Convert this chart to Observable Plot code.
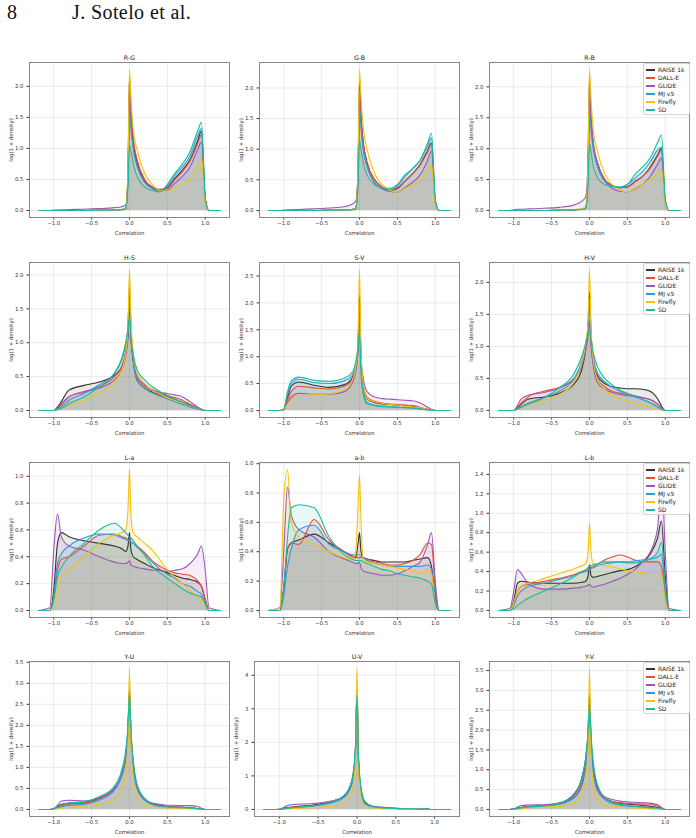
<!DOCTYPE html>
<html><head><meta charset="utf-8">
<script src="https://cdn.jsdelivr.net/npm/d3@7"></script>
<script src="https://cdn.jsdelivr.net/npm/@observablehq/plot@0.6"></script>
<style>
html,body{margin:0;padding:0;background:#fff;}
#page{position:relative;width:696px;height:838px;overflow:hidden;background:#fff;font-family:"DejaVu Sans",sans-serif;}
.hdr{position:absolute;top:2px;font-family:"Liberation Serif",serif;font-size:20px;line-height:1;color:#111;letter-spacing:0.4px;}
.panel{position:absolute;}
.legend{position:absolute;border:1px solid #d4d4d4;border-radius:2px;background:rgba(255,255,255,0.85);font-family:"DejaVu Sans",sans-serif;font-size:6px;color:#222;}
.legend .row{position:absolute;left:2px;height:8px;line-height:8px;white-space:nowrap;}
.legend .sw{position:absolute;left:0;top:3.3px;width:9px;height:1.5px;}
.legend .lb{position:absolute;left:12px;top:0;}
</style></head>
<body><div id="page">
<div class="hdr" style="left:7px">8</div>
<div class="hdr" style="left:72px">J. Sotelo et al.</div>
</div>
<script>
// shared x grid (correlation values)
const X = [-1.2,-1.05,-1.0,-0.95,-0.9,-0.8,-0.6,-0.4,-0.2,-0.1,-0.05,-0.02,0,0.02,0.05,0.1,0.2,0.3,0.4,0.5,0.6,0.7,0.8,0.9,0.95,1.0,1.05,1.2];
const SERIES = ["RAISE 1k","DALL-E","GLIDE","MJ v5","Firefly","SD"];
const COLORS = ["#333333","#e74c3c","#9b59b6","#3498db","#f1c40f","#1abc9c"];
const X_TICKS = [-1,-0.5,0,0.5,1];
const TITLES = ["R-G","G-B","R-B","H-S","S-V","H-V","L-a","a-b","L-b","Y-U","U-V","Y-V"];

const RG = [
 [0,0,0,0,0,0,0,0.005,0.01,0.015,0.03,0.6,2.15,1.6,1.1,0.78,0.48,0.37,0.33,0.37,0.52,0.65,0.82,1.12,1.28,0.2,0,0],
 [0,0,0,0,0,0,0,0.005,0.01,0.015,0.03,0.55,2.0,1.55,1.15,0.82,0.5,0.38,0.34,0.36,0.5,0.63,0.8,1.08,1.22,0.15,0,0],
 [0,0,0.005,0.008,0.01,0.015,0.02,0.03,0.045,0.06,0.09,0.5,1.85,1.4,1.0,0.72,0.46,0.36,0.32,0.33,0.44,0.55,0.7,0.98,1.1,0.15,0,0],
 [0,0,0,0,0,0,0,0.005,0.01,0.015,0.03,0.5,1.55,1.3,1.0,0.72,0.45,0.35,0.31,0.4,0.57,0.7,0.88,1.2,1.32,0.15,0,0],
 [0,0,0,0,0,0,0,0.005,0.01,0.015,0.03,0.7,2.27,1.8,1.3,0.98,0.6,0.42,0.32,0.31,0.37,0.42,0.5,0.72,0.85,0.12,0,0],
 [0,0,0,0,0,0,0,0.005,0.01,0.01,0.02,0.4,1.05,0.95,0.75,0.55,0.38,0.32,0.3,0.42,0.6,0.75,0.95,1.28,1.42,0.2,0,0]
];
const GB = [
 [0,0,0,0,0,0,0,0.005,0.01,0.015,0.03,0.6,2.1,1.55,1.1,0.78,0.5,0.38,0.33,0.36,0.48,0.6,0.75,0.98,1.1,0.15,0,0],
 [0,0,0,0,0,0,0,0.005,0.01,0.015,0.03,0.55,1.95,1.5,1.1,0.78,0.5,0.38,0.33,0.37,0.48,0.6,0.74,0.96,1.08,0.15,0,0],
 [0,0,0.005,0.01,0.012,0.015,0.025,0.04,0.06,0.1,0.15,0.6,1.8,1.4,1.0,0.72,0.45,0.35,0.31,0.3,0.37,0.46,0.58,0.82,0.97,0.12,0,0],
 [0,0,0,0,0,0,0,0.005,0.01,0.015,0.03,0.5,1.65,1.35,1.0,0.72,0.45,0.36,0.33,0.4,0.55,0.68,0.82,1.05,1.18,0.15,0,0],
 [0,0,0,0,0,0,0,0.005,0.01,0.015,0.03,0.7,2.3,1.85,1.35,1.0,0.6,0.42,0.33,0.3,0.36,0.42,0.5,0.66,0.76,0.1,0,0],
 [0,0,0,0,0,0,0,0.005,0.01,0.01,0.02,0.4,1.15,1.0,0.78,0.58,0.42,0.37,0.36,0.42,0.58,0.68,0.82,1.1,1.26,0.18,0,0]
];
const RB = [
 [0,0,0,0,0,0,0,0.005,0.01,0.02,0.04,0.6,2.0,1.5,1.05,0.78,0.5,0.4,0.37,0.38,0.47,0.55,0.7,0.9,1.0,0.15,0,0],
 [0,0,0,0,0,0,0,0.005,0.01,0.02,0.04,0.55,1.9,1.45,1.05,0.78,0.5,0.4,0.37,0.38,0.46,0.55,0.68,0.88,0.98,0.15,0,0],
 [0,0,0.01,0.02,0.02,0.025,0.035,0.05,0.09,0.15,0.22,0.8,2.2,1.6,1.1,0.8,0.48,0.36,0.31,0.3,0.35,0.42,0.55,0.75,0.85,0.12,0,0],
 [0,0,0,0,0,0,0,0.005,0.01,0.02,0.04,0.5,1.62,1.3,1.0,0.72,0.47,0.39,0.37,0.42,0.52,0.63,0.78,0.98,1.02,0.15,0,0],
 [0,0,0,0,0,0,0,0.005,0.015,0.03,0.06,0.7,2.28,1.8,1.3,0.98,0.6,0.42,0.33,0.3,0.36,0.42,0.5,0.6,0.68,0.1,0,0],
 [0,0,0,0,0,0,0,0.005,0.01,0.015,0.03,0.4,1.08,0.95,0.72,0.55,0.42,0.39,0.38,0.42,0.58,0.7,0.85,1.1,1.22,0.18,0,0]
];
const HS = [
 [0,0,0,0.05,0.13,0.3,0.37,0.42,0.52,0.65,0.85,1.1,1.55,1.05,0.72,0.45,0.33,0.27,0.23,0.2,0.16,0.12,0.08,0.03,0.01,0,0,0],
 [0,0,0,0.03,0.08,0.2,0.28,0.35,0.5,0.65,0.88,1.2,1.85,1.2,0.8,0.5,0.36,0.29,0.25,0.22,0.19,0.15,0.09,0.04,0.015,0,0,0],
 [0,0,0,0.03,0.1,0.2,0.27,0.33,0.45,0.6,0.8,1.1,1.65,1.1,0.75,0.5,0.38,0.31,0.27,0.25,0.23,0.2,0.13,0.05,0.02,0,0,0],
 [0,0,0,0.02,0.05,0.15,0.25,0.38,0.55,0.75,0.98,1.25,1.75,1.15,0.75,0.45,0.33,0.26,0.21,0.17,0.13,0.09,0.05,0.02,0.01,0,0,0],
 [0,0,0,0.01,0.03,0.08,0.15,0.26,0.42,0.6,0.85,1.25,2.08,1.3,0.85,0.55,0.4,0.3,0.24,0.19,0.15,0.11,0.07,0.03,0.01,0,0,0],
 [0,0,0,0.01,0.03,0.1,0.2,0.35,0.55,0.78,1.0,1.2,1.38,1.05,0.82,0.6,0.45,0.35,0.28,0.22,0.17,0.12,0.07,0.03,0.01,0,0,0]
];
const SV = [
 [0,0,0.02,0.25,0.45,0.53,0.47,0.43,0.48,0.6,0.8,1.2,2.15,0.9,0.45,0.22,0.15,0.12,0.11,0.1,0.09,0.08,0.05,0.02,0.01,0,0,0],
 [0,0,0.02,0.2,0.35,0.45,0.42,0.4,0.45,0.57,0.78,1.15,2.0,0.9,0.48,0.25,0.17,0.14,0.12,0.11,0.1,0.09,0.06,0.02,0.01,0,0,0],
 [0,0,0.01,0.15,0.25,0.32,0.3,0.3,0.35,0.5,0.72,1.1,1.9,1.0,0.6,0.35,0.25,0.22,0.21,0.2,0.19,0.18,0.14,0.06,0.02,0,0,0],
 [0,0,0.02,0.3,0.5,0.58,0.52,0.5,0.55,0.65,0.82,1.15,1.75,0.8,0.35,0.15,0.1,0.08,0.07,0.06,0.05,0.04,0.03,0.01,0.005,0,0,0],
 [0,0,0.01,0.12,0.2,0.28,0.29,0.31,0.38,0.55,0.8,1.3,2.62,1.1,0.5,0.23,0.16,0.13,0.11,0.1,0.08,0.07,0.05,0.02,0.01,0,0,0],
 [0,0,0.02,0.35,0.55,0.62,0.56,0.54,0.6,0.7,0.9,1.15,1.45,0.7,0.3,0.12,0.09,0.07,0.065,0.06,0.055,0.05,0.03,0.01,0.005,0,0,0]
];
const HV = [
 [0,0,0,0.04,0.1,0.18,0.21,0.27,0.42,0.65,0.95,1.3,1.85,1.2,0.8,0.55,0.42,0.37,0.35,0.34,0.34,0.33,0.3,0.18,0.07,0,0,0],
 [0,0,0,0.05,0.12,0.22,0.3,0.36,0.5,0.75,0.95,1.15,1.4,1.0,0.72,0.5,0.37,0.3,0.27,0.25,0.23,0.2,0.17,0.1,0.04,0,0,0],
 [0,0,0,0.08,0.18,0.24,0.28,0.35,0.5,0.7,0.95,1.25,1.75,1.1,0.7,0.45,0.33,0.28,0.25,0.23,0.22,0.2,0.17,0.1,0.04,0,0,0],
 [0,0,0,0.03,0.06,0.12,0.2,0.3,0.5,0.78,1.05,1.3,1.65,1.2,0.85,0.6,0.45,0.36,0.3,0.25,0.21,0.17,0.12,0.05,0.02,0,0,0],
 [0,0,0,0.02,0.04,0.09,0.16,0.25,0.45,0.75,1.05,1.4,2.2,1.3,0.8,0.5,0.33,0.24,0.18,0.14,0.11,0.08,0.05,0.02,0.01,0,0,0],
 [0,0,0,0.02,0.05,0.1,0.2,0.35,0.58,0.85,1.05,1.18,1.25,1.1,0.9,0.7,0.5,0.4,0.32,0.27,0.22,0.17,0.12,0.06,0.02,0,0,0]
];
const LA = [
 [0,0,0.15,0.5,0.58,0.55,0.52,0.5,0.48,0.46,0.44,0.48,0.58,0.45,0.4,0.38,0.35,0.32,0.3,0.28,0.26,0.24,0.23,0.21,0.18,0.08,0,0],
 [0,0,0.1,0.3,0.38,0.4,0.48,0.56,0.57,0.55,0.54,0.53,0.52,0.51,0.5,0.48,0.43,0.37,0.33,0.3,0.28,0.27,0.26,0.22,0.18,0.08,0,0],
 [0,0.02,0.45,0.72,0.55,0.48,0.45,0.4,0.36,0.35,0.35,0.36,0.37,0.34,0.33,0.32,0.31,0.3,0.3,0.29,0.3,0.31,0.35,0.42,0.48,0.3,0.02,0],
 [0,0,0.1,0.35,0.42,0.48,0.54,0.57,0.56,0.54,0.53,0.52,0.52,0.51,0.5,0.47,0.42,0.36,0.31,0.27,0.24,0.2,0.18,0.14,0.12,0.05,0,0],
 [0,0,0.05,0.15,0.25,0.3,0.4,0.5,0.56,0.58,0.6,0.75,1.05,0.7,0.58,0.55,0.5,0.45,0.38,0.3,0.25,0.2,0.15,0.1,0.08,0.04,0,0],
 [0,0,0.08,0.25,0.32,0.4,0.5,0.6,0.65,0.61,0.58,0.56,0.55,0.54,0.52,0.48,0.41,0.33,0.28,0.24,0.2,0.16,0.13,0.11,0.1,0.05,0,0]
];
const AB = [
 [0,0,0.15,0.42,0.46,0.48,0.52,0.46,0.4,0.37,0.36,0.45,0.53,0.4,0.36,0.35,0.34,0.33,0.33,0.33,0.33,0.34,0.35,0.36,0.3,0.1,0,0],
 [0,0,0.15,0.42,0.46,0.45,0.62,0.48,0.4,0.37,0.37,0.36,0.36,0.36,0.36,0.35,0.33,0.32,0.31,0.31,0.32,0.34,0.38,0.46,0.45,0.15,0,0],
 [0,0.02,0.4,0.84,0.65,0.55,0.5,0.4,0.35,0.33,0.32,0.32,0.33,0.29,0.27,0.26,0.25,0.24,0.24,0.25,0.27,0.3,0.33,0.45,0.53,0.2,0,0],
 [0,0,0.1,0.3,0.42,0.55,0.58,0.45,0.4,0.38,0.38,0.38,0.38,0.37,0.36,0.34,0.32,0.31,0.3,0.3,0.3,0.3,0.3,0.31,0.28,0.08,0,0],
 [0,0.02,0.75,0.96,0.6,0.5,0.45,0.4,0.36,0.35,0.4,0.7,0.92,0.6,0.35,0.33,0.32,0.31,0.3,0.29,0.28,0.27,0.25,0.28,0.25,0.05,0,0],
 [0,0,0.15,0.5,0.7,0.72,0.7,0.5,0.38,0.35,0.34,0.34,0.34,0.34,0.33,0.32,0.3,0.28,0.27,0.25,0.24,0.23,0.22,0.2,0.18,0.05,0,0]
];
const LB = [
 [0,0,0.1,0.28,0.3,0.29,0.28,0.28,0.28,0.29,0.3,0.35,0.47,0.36,0.34,0.35,0.37,0.39,0.41,0.42,0.45,0.5,0.58,0.75,0.92,0.35,0,0],
 [0,0,0.08,0.2,0.25,0.27,0.3,0.33,0.37,0.4,0.41,0.42,0.43,0.44,0.45,0.47,0.52,0.55,0.57,0.55,0.52,0.5,0.5,0.5,0.45,0.15,0,0],
 [0,0.02,0.2,0.42,0.38,0.27,0.22,0.22,0.23,0.24,0.25,0.26,0.27,0.25,0.24,0.25,0.27,0.3,0.33,0.37,0.42,0.5,0.6,0.85,1.45,0.6,0.02,0],
 [0,0,0.05,0.15,0.2,0.25,0.28,0.32,0.36,0.39,0.4,0.41,0.42,0.43,0.44,0.46,0.48,0.49,0.5,0.5,0.51,0.52,0.53,0.55,0.58,0.2,0,0],
 [0,0,0.08,0.2,0.25,0.28,0.33,0.38,0.43,0.46,0.48,0.6,0.9,0.6,0.48,0.47,0.46,0.45,0.43,0.41,0.4,0.39,0.38,0.38,0.37,0.1,0,0],
 [0,0,0.02,0.05,0.08,0.13,0.2,0.27,0.35,0.4,0.42,0.44,0.45,0.46,0.47,0.48,0.5,0.5,0.5,0.49,0.49,0.5,0.53,0.6,0.7,0.25,0,0]
];
const YU = [
 [0,0,0.01,0.07,0.12,0.15,0.17,0.27,0.5,0.85,1.3,1.9,2.9,1.8,1.1,0.55,0.25,0.14,0.1,0.07,0.06,0.05,0.04,0.02,0.01,0,0,0],
 [0,0,0.01,0.05,0.08,0.12,0.15,0.25,0.48,0.85,1.3,1.9,2.8,1.8,1.1,0.5,0.22,0.13,0.09,0.07,0.06,0.05,0.04,0.02,0.01,0,0,0],
 [0,0,0.02,0.1,0.2,0.22,0.2,0.27,0.5,0.8,1.2,1.8,2.7,1.7,1.05,0.55,0.25,0.15,0.12,0.1,0.1,0.09,0.09,0.07,0.03,0,0,0],
 [0,0,0.01,0.04,0.06,0.1,0.12,0.22,0.45,0.85,1.3,1.9,2.75,1.7,1.0,0.5,0.22,0.12,0.08,0.06,0.05,0.04,0.03,0.02,0.01,0,0,0],
 [0,0,0,0.02,0.03,0.05,0.08,0.12,0.25,0.5,0.9,1.6,3.35,1.5,0.7,0.3,0.12,0.07,0.05,0.04,0.035,0.03,0.02,0.01,0.005,0,0,0],
 [0,0,0.01,0.06,0.1,0.15,0.18,0.3,0.55,0.95,1.4,2.0,2.75,1.85,1.15,0.6,0.25,0.12,0.08,0.06,0.05,0.04,0.03,0.02,0.01,0,0,0]
];
const UV = [
 [0,0,0,0.03,0.05,0.08,0.12,0.2,0.35,0.6,1.0,1.8,3.6,1.5,0.6,0.2,0.08,0.05,0.04,0.03,0.02,0.02,0.01,0.01,0,0,0,0],
 [0,0,0,0.02,0.04,0.07,0.1,0.18,0.33,0.6,1.0,1.8,3.5,1.4,0.55,0.18,0.07,0.05,0.04,0.03,0.02,0.02,0.01,0.01,0,0,0,0],
 [0,0,0.01,0.05,0.12,0.15,0.17,0.22,0.35,0.6,1.0,1.7,3.3,1.4,0.6,0.22,0.1,0.07,0.05,0.04,0.03,0.03,0.02,0.01,0,0,0,0],
 [0,0,0,0.02,0.03,0.06,0.09,0.16,0.3,0.55,0.95,1.7,3.4,1.4,0.55,0.18,0.07,0.05,0.04,0.03,0.02,0.02,0.01,0.01,0,0,0,0],
 [0,0,0,0.01,0.02,0.03,0.05,0.08,0.15,0.35,0.7,1.5,4.2,1.2,0.4,0.12,0.05,0.03,0.02,0.02,0.01,0.01,0.01,0,0,0,0,0],
 [0,0,0,0.02,0.03,0.06,0.1,0.18,0.35,0.65,1.1,1.9,3.4,1.6,0.7,0.25,0.09,0.05,0.04,0.03,0.02,0.02,0.01,0.01,0,0,0,0]
];
const YV = [
 [0,0,0.01,0.03,0.05,0.07,0.1,0.16,0.4,0.8,1.3,1.9,2.9,1.8,1.1,0.6,0.3,0.2,0.16,0.14,0.12,0.1,0.08,0.05,0.02,0,0,0],
 [0,0,0.01,0.03,0.05,0.07,0.1,0.15,0.35,0.7,1.2,1.8,2.7,1.7,1.0,0.5,0.28,0.2,0.17,0.15,0.14,0.14,0.13,0.08,0.03,0,0,0],
 [0,0,0.02,0.06,0.1,0.11,0.12,0.15,0.3,0.6,1.1,1.7,2.6,1.7,1.0,0.55,0.32,0.25,0.21,0.19,0.18,0.17,0.16,0.12,0.05,0,0,0],
 [0,0,0.01,0.02,0.04,0.06,0.08,0.13,0.3,0.65,1.1,1.7,2.6,1.6,0.95,0.5,0.25,0.15,0.11,0.09,0.07,0.06,0.05,0.03,0.01,0,0,0],
 [0,0,0,0.01,0.02,0.04,0.06,0.08,0.18,0.4,0.8,1.5,3.55,1.4,0.6,0.3,0.12,0.08,0.06,0.05,0.04,0.03,0.02,0.01,0.005,0,0,0],
 [0,0,0.01,0.02,0.04,0.06,0.09,0.15,0.38,0.8,1.3,1.95,2.65,1.9,1.2,0.65,0.3,0.18,0.13,0.1,0.08,0.06,0.04,0.03,0.01,0,0,0]
];

const Y_TICKS = [
 [0,0.5,1,1.5,2],[0,0.5,1,1.5,2],[0,0.5,1,1.5,2],
 [0,0.5,1,1.5,2],[0,0.5,1,1.5,2,2.5],[0,0.5,1,1.5,2],
 [0,0.2,0.4,0.6,0.8,1.0],[0,0.2,0.4,0.6,0.8,1.0],[0,0.2,0.4,0.6,0.8,1.0,1.2,1.4],
 [0,0.5,1,1.5,2,2.5,3,3.5],[0,1,2,3,4],[0,0.5,1,1.5,2,2.5,3,3.5]
];
const Y_FORMATS = [".1f",".1f",".1f",".1f",".1f",".1f",".1f",".1f",".1f",".1f","d",".1f"];
const VALUES = [RG, GB, RB, HS, SV, HV, LA, AB, LB, YU, UV, YV];

const page = document.getElementById("page");
const COL_LEFT = [0, 230, 460];
const ROW_TOP = [50, 250, 450, 649];

VALUES.forEach((vals, p) => {
  vals.forEach(arr => { if (arr.length !== X.length) throw new Error(TITLES[p] + " length " + arr.length); });
  const data = [];
  vals.forEach((arr, si) => arr.forEach((v, i) => data.push({x: X[i], y: v, s: SERIES[si]})));
  const ymax = d3.max(data, d => d.y);
  const xmin = d3.min(X), xmax = d3.max(X), xpad = 0.05 * (xmax - xmin);
  const ml = Y_FORMATS[p] === "d" ? 24 : 29;
  const col = p % 3, row = Math.floor(p / 3);
  const chart = Plot.plot({
    width: 230, height: 195,
    marginTop: 12, marginBottom: 28, marginLeft: ml, marginRight: 1,
    style: {fontFamily: "DejaVu Sans", fontSize: "5.4px", color: "#333", background: "transparent", overflow: "visible"},
    x: {domain: [xmin - xpad, xmax + xpad]},
    y: {domain: [-0.05 * ymax, 1.05 * ymax]},
    color: {domain: SERIES, range: COLORS},
    marks: [
      Plot.gridX(X_TICKS, {stroke: "#000", strokeOpacity: 0.08}),
      Plot.gridY(Y_TICKS[p], {stroke: "#000", strokeOpacity: 0.08}),
      Plot.areaY(data, {x: "x", y1: 0, y2: "y", fill: "s", z: "s", fillOpacity: 0.1, curve: "monotone-x"}),
      Plot.lineY(data, {x: "x", y: "y", stroke: "s", strokeWidth: 1.1, curve: "monotone-x"}),
      Plot.axisX({ticks: X_TICKS, tickFormat: d3.format(".1f"), tickSize: 2.5, tickPadding: 1.5,
        label: "Correlation", labelAnchor: "center", labelArrow: "none", labelOffset: 17}),
      Plot.axisY({ticks: Y_TICKS[p], tickFormat: d3.format(Y_FORMATS[p]), tickSize: 2.5, tickPadding: 3.5,
        label: "log(1 + density)", labelAnchor: "center", labelArrow: "none", labelOffset: 20}),
      Plot.frame({stroke: "#888", strokeWidth: 1}),
      Plot.text([TITLES[p]], {text: d => d, frameAnchor: "top", dy: -3, lineAnchor: "bottom", fontSize: 6.2, fill: "#222"})
    ]
  });
  const div = document.createElement("div");
  div.className = "panel";
  div.style.left = COL_LEFT[col] + "px";
  div.style.top = ROW_TOP[row] + "px";
  div.appendChild(chart);
  if (col === 2) {
    const lg = document.createElement("div");
    lg.className = "legend";
    lg.style.left = "183px"; lg.style.top = "13px";
    lg.style.width = "45px"; lg.style.height = "50px";
    SERIES.forEach((s, i) => {
      const r = document.createElement("div");
      r.className = "row"; r.style.top = (2 + i * 8) + "px";
      const sw = document.createElement("span"); sw.className = "sw"; sw.style.background = COLORS[i];
      const lb = document.createElement("span"); lb.className = "lb"; lb.textContent = s;
      r.appendChild(sw); r.appendChild(lb); lg.appendChild(r);
    });
    div.appendChild(lg);
  }
  page.appendChild(div);
});
</script>
</body></html>
